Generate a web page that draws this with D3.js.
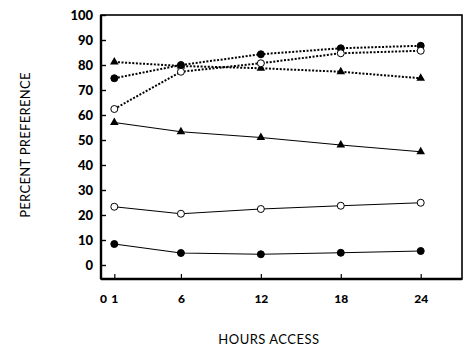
<!DOCTYPE html>
<html><head><meta charset="utf-8">
<script src="https://cdn.jsdelivr.net/npm/d3@7"></script>
<style>body{margin:0;background:#fff}svg{display:block}</style>
</head><body>
<script>
const hours = [1, 6, 12, 18, 24];
const yTicks = [0, 10, 20, 30, 40, 50, 60, 70, 80, 90, 100];
const xTicks = [0, 1, 6, 12, 18, 24];
const dotTriangle = [81.2, 79.6, 78.7, 77.3, 74.7];
const dotFilled = [74.7, 80.0, 84.3, 86.7, 87.7];
const dotOpen = [62.4, 77.3, 80.7, 84.7, 85.7];
const solidTriangle = [57.0, 53.3, 51.0, 48.0, 45.3];
const solidOpen = [23.3, 20.5, 22.4, 23.7, 24.9];
const solidFilled = [8.4, 4.8, 4.3, 4.9, 5.6];

const series = [
  {v: dotTriangle, dashed: true, m: "tri"},
  {v: dotFilled, dashed: true, m: "fill"},
  {v: dotOpen, dashed: true, m: "open"},
  {v: solidTriangle, dashed: false, m: "tri"},
  {v: solidOpen, dashed: false, m: "open"},
  {v: solidFilled, dashed: false, m: "fill"}
];

const W = 465, H = 348;
const L = 101, R = 462, T = 15, B = 279;
const x = d3.scaleLinear().domain([0, 27.1]).range([L, R]);
const y = d3.scaleLinear().domain([0, 100]).range([265, 15]);

const svg = d3.select("body").append("svg").attr("width", W).attr("height", H);
const font = "Lato, 'DejaVu Sans', sans-serif";

// frame
svg.append("rect").attr("x", L).attr("y", T).attr("width", R - L).attr("height", B - T)
  .attr("fill", "none").attr("stroke", "#000").attr("stroke-width", 1.6);
svg.append("line").attr("x1", L).attr("x2", L).attr("y1", T).attr("y2", B).attr("stroke", "#000").attr("stroke-width", 2.4);
svg.append("line").attr("x1", L).attr("x2", R).attr("y1", B).attr("y2", B).attr("stroke", "#000").attr("stroke-width", 2.4);

// y axis
const yAxis = d3.axisLeft(y).tickValues(yTicks).tickSize(-5).tickPadding(8).tickFormat(d3.format("d"));
const gy = svg.append("g").attr("transform", `translate(${L},0)`).call(yAxis);
gy.select(".domain").remove();
gy.selectAll("line").attr("stroke", "#000").attr("stroke-width", 1.4);
gy.selectAll("text").attr("font-family", font).attr("font-weight", 900).attr("font-size", 13).attr("fill", "#000");

// x axis
const xAxis = d3.axisBottom(x).tickValues(xTicks).tickSize(-5).tickPadding(15).tickFormat(d3.format("d"));
const gx = svg.append("g").attr("transform", `translate(0,${B})`).call(xAxis);
gx.select(".domain").remove();
gx.selectAll("line").attr("stroke", "#000").attr("stroke-width", 1.2);
gx.selectAll(".tick").filter(d => d === 0).select("line").remove();
gx.selectAll("text").attr("font-family", font).attr("font-weight", 900).attr("font-size", 12).attr("fill", "#000");
gx.selectAll(".tick").filter(d => d === 0).select("text").attr("dx", 2);

// titles
svg.append("text").attr("x", 269).attr("y", 344).attr("text-anchor", "middle")
  .attr("font-family", font).attr("font-size", 13).attr("letter-spacing", 0.5).attr("fill", "#000").text("HOURS ACCESS");
svg.append("text").attr("transform", "translate(30,145) rotate(-90)").attr("text-anchor", "middle")
  .attr("font-family", font).attr("font-size", 13).attr("letter-spacing", 0.3).attr("fill", "#000").text("PERCENT PREFERENCE");

// lines
const line = d3.line().x((d, i) => x(hours[i])).y(d => y(d));
series.forEach(s => {
  svg.append("path").attr("d", line(s.v)).attr("fill", "none").attr("stroke", "#000")
    .attr("stroke-width", s.dashed ? 2 : 1.1)
    .attr("stroke-dasharray", s.dashed ? "2,1.6" : null);
});
// markers
const tri = d3.symbol().type(d3.symbolTriangle).size(32);
series.forEach(s => {
  s.v.forEach((v, i) => {
    const cx = x(hours[i]), cy = y(v);
    if (s.m === "tri") {
      svg.append("path").attr("d", tri()).attr("transform", `translate(${cx},${cy})`).attr("fill", "#000");
    } else {
      svg.append("circle").attr("cx", cx).attr("cy", cy).attr("r", 3.5)
        .attr("fill", s.m === "fill" ? "#000" : "#fff").attr("stroke", "#000").attr("stroke-width", 1);
    }
  });
});
</script>
</body></html>
